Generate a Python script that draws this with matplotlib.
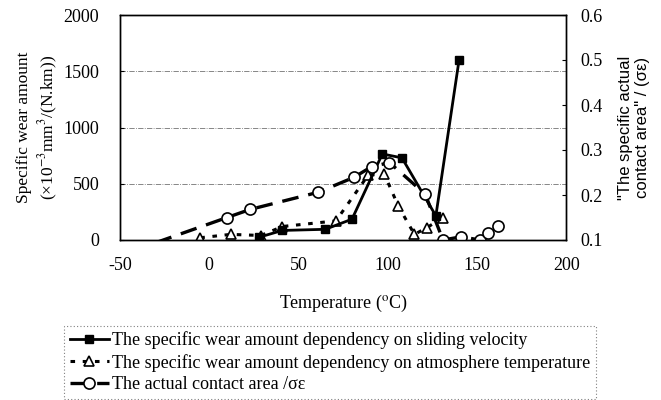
import matplotlib
matplotlib.use("Agg")
import matplotlib.pyplot as plt

# sliding velocity series (left axis)
temp_slide = [28, 41, 65, 80, 97, 108, 127, 140]
wear_slide = [25, 85, 95, 185, 765, 730, 215, 1600]

# atmosphere temperature series (left axis)
temp_atm = [-5, 12, 29, 41, 71, 89, 98, 106, 115, 122, 131]
wear_atm = [20, 50, 40, 120, 170, 575, 590, 300, 50, 110, 200]

# actual contact area (right axis)
temp_area = [-30, 10, 23, 61, 81, 91, 101, 121, 131, 141, 152, 156, 162]
area = [0.094, 0.150, 0.168, 0.206, 0.239, 0.263, 0.272, 0.202, 0.100, 0.107, 0.100, 0.116, 0.131]

labels = ["The specific wear amount dependency on sliding velocity",
          "The specific wear amount dependency on atmosphere temperature",
          "The actual contact area /σε"]

serif = ["Liberation Serif", "DejaVu Serif"]
sans = ["Liberation Sans", "DejaVu Sans"]
plt.rcParams['font.family'] = serif
plt.rcParams['mathtext.fontset'] = 'stix'
plt.rcParams['axes.unicode_minus'] = False

fig = plt.figure(figsize=(6.61, 4.0), dpi=100)
ax1 = fig.add_axes([0.1815, 0.4, 0.675, 0.5625])
ax2 = ax1.twinx()

for y in [500, 1000, 1500]:
    ax1.axhline(y, color='0.45', lw=0.6, ls='-.', zorder=0)

l1, = ax1.plot(temp_slide, wear_slide, color='black', lw=2, marker='s',
               ms=6, mfc='black', mec='black', zorder=3)
l2, = ax1.plot(temp_atm, wear_atm, color='black', lw=2.2, ls=(0, (1.5, 2.5)),
               marker='^', ms=7, mfc='white', mec='black', mew=1.2, zorder=2)
# first point of the contact-area curve sits below the axis, no marker shown
l3, = ax2.plot(temp_area, area, color='black', lw=2.4, ls=(0, (5, 3)),
               marker='o', ms=8, mfc='white', mec='black', mew=1.2,
               markevery=list(range(1, len(area))))

ax1.set_xlim(-50, 200)
ax1.set_ylim(0, 2000)
ax2.set_ylim(0.1, 0.6)
ax1.set_xticks([-50, 0, 50, 100, 150, 200])
ax1.set_yticks([0, 500, 1000, 1500, 2000])
ax2.set_yticks([0.1, 0.2, 0.3, 0.4, 0.5, 0.6])
ax1.tick_params(axis='x', length=0, labelsize=13, pad=12)
ax1.tick_params(axis='y', direction='in', length=3, labelsize=13, pad=15)
ax2.tick_params(axis='y', direction='in', length=3, labelsize=13, pad=10)

for ax in (ax1, ax2):
    for s in ax.spines.values():
        s.set_color('black')
        s.set_linewidth(1.0)

ax1.set_xlabel("Temperature ($^{\\mathrm{o}}$C)", fontsize=13, labelpad=14)
ax1.set_ylabel("Specific wear amount\n(×10$^{-3}$mm$^{3}$/(N.km))",
               fontsize=12.5, linespacing=1.3)
ax1.yaxis.set_label_coords(-0.134, 0.5)
ax2.set_ylabel("\"The specific actual\ncontact area\" / (σε)", fontsize=12,
               family=sans, linespacing=1.15)
ax2.yaxis.set_label_coords(1.116, 0.5)

leg = fig.legend([l1, l2, l3], labels, loc='upper left',
                 bbox_to_anchor=(0.097, 0.185), fontsize=13,
                 handlelength=2.2, handletextpad=0.15, labelspacing=0.25,
                 borderpad=0.3, borderaxespad=0, fancybox=False, framealpha=1)
leg.get_frame().set_edgecolor('0.5')
leg.get_frame().set_linestyle((0, (1, 2)))
leg.get_frame().set_linewidth(0.8)

fig.savefig("out.png", dpi=100)
